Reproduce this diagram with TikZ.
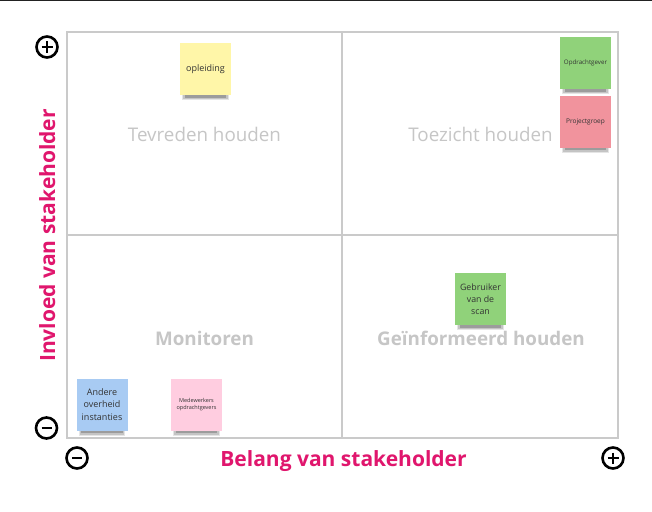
\documentclass[tikz,border=0pt]{standalone}
\usepackage{fontspec}
\setmainfont{Open Sans}
\usetikzlibrary{backgrounds}
\definecolor{cyellow}{HTML}{FFF6A8}
\definecolor{cgreen}{HTML}{90D27A}
\definecolor{cred}{HTML}{F1939D}
\definecolor{cblue}{HTML}{A8CBF3}
\definecolor{cpink}{HTML}{FFCDE0}
\definecolor{quadgray}{HTML}{C6C6C6}
\definecolor{gridgray}{HTML}{CACACA}
\definecolor{axispink}{HTML}{E0166D}
\definecolor{stickytext}{HTML}{333333}
\definecolor{topdark}{HTML}{222222}
\tikzset{
  gridline/.style={draw=gridgray, line width=1.2pt},
  quad/.style={text=quadgray, font=\fontsize{18.8}{22}\selectfont, inner sep=0pt},
  quadbold/.style={quad, font=\fontsize{18.8}{22}\selectfont\bfseries},
  axislabel/.style={text=axispink, font=\fontsize{21}{25}\selectfont\bfseries, inner sep=0pt},
  sym/.style={draw=black, line width=2.6pt},
  sticky/.style={minimum width=51pt, minimum height=52pt, inner sep=1pt, align=center, text=stickytext},
  stickyfont/.style={font=\fontsize{9}{12.6}\selectfont},
  shadowc/.style={fill=black},
}
\newcommand\stickyshadow[1]{%
  \begin{scope}[on background layer]
    \fill[shadowc, opacity=.10] ([xshift=2.5pt,yshift=4pt]#1.south west) rectangle ([xshift=-2.5pt,yshift=-5pt]#1.south east);
    \fill[shadowc, opacity=.14] ([xshift=3.5pt,yshift=4pt]#1.south west) rectangle ([xshift=-3.5pt,yshift=-3.8pt]#1.south east);
    \fill[shadowc, opacity=.20] ([xshift=5pt,yshift=4pt]#1.south west) rectangle ([xshift=-5pt,yshift=-2.4pt]#1.south east);
  \end{scope}}
\begin{document}
\begin{tikzpicture}[x=1pt,y=1pt]
\useasboundingbox (0,0) rectangle (652,-511);
\begin{scope}[on background layer]
  \fill[white] (0,0) rectangle (652,-511);
\end{scope}
% top dark line
\draw[topdark, line width=1.2pt] (0,-0.6) -- (652,-0.6);
% grid
\draw[gridline] (67,-32) rectangle (618,-438);
\draw[gridline] (342,-32) -- (342,-438);
\draw[gridline] (67,-235) -- (618,-235);
% quadrant labels
\node[quad, anchor=base] (q1) at (204.5,-141) {Tevreden houden};
\node[quad, anchor=base] (q2) at (480.5,-141) {Toezicht houden};
\node[quadbold, anchor=base] (q3) at (204.5,-345) {Monitoren};
\node[quadbold, anchor=base] (q4) at (481,-345) {Geïnformeerd houden};
% axis labels
\node[axislabel, anchor=base] (xl) at (343.5,-466) {Belang van stakeholder};
\node[axislabel, anchor=base, rotate=90] (yl) at (55,-235.5) {Invloed van stakeholder};
% plus / minus symbols
\draw[sym] (47,-47) circle (10.5);
\draw[sym] (41.5,-47) -- (52.5,-47);
\draw[sym] (47,-41.5) -- (47,-52.5);
\draw[sym] (46.5,-428) circle (10.5);
\draw[sym] (41.5,-428) -- (51.5,-428);
\draw[sym] (77,-458) circle (10.5);
\draw[sym] (72,-458) -- (82,-458);
\draw[sym] (613,-458) circle (10.5);
\draw[sym] (607.5,-458) -- (618.5,-458);
\draw[sym] (613,-452.5) -- (613,-463.5);
% stickies
\node[sticky, fill=cyellow, stickyfont] (s1) at (205.5,-69) {opleiding};
\node[sticky, fill=cgreen, font=\fontsize{6.2}{8}\selectfont] (s2) at (585.5,-63) {Opdrachtgever};
\node[sticky, fill=cred, font=\fontsize{6.5}{8}\selectfont] (s3) at (585.5,-121.5) {Projectgroep};
\node[sticky, fill=cgreen, font=\fontsize{8.8}{12.3}\selectfont] (s4) at (480.5,-299) {Gebruiker\\van de\\scan};
\node[sticky, fill=cblue, stickyfont] (s5) at (102,-404.5) {Andere\\overheid\\instanties};
\node[sticky, fill=cpink, font=\fontsize{5.5}{7}\selectfont] (s6) at (196.5,-404.5) {Medewerkers\\opdrachtgevers};
\stickyshadow{s1}
\stickyshadow{s2}
\stickyshadow{s3}
\stickyshadow{s4}
\stickyshadow{s5}
\stickyshadow{s6}
\end{tikzpicture}
\end{document}
